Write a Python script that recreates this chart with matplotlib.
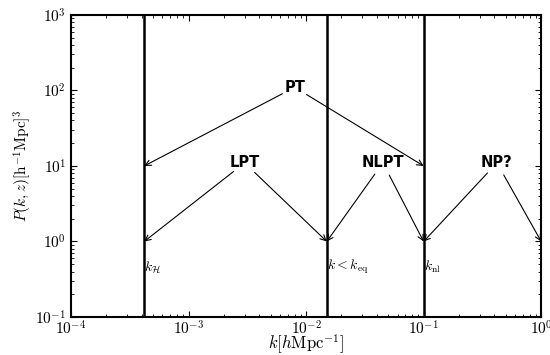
import math

import matplotlib

matplotlib.use("Agg")
import matplotlib.pyplot as plt
from matplotlib.ticker import FuncFormatter

plt.rcParams["mathtext.fontset"] = "cm"
plt.rcParams["font.family"] = ["DejaVu Serif"]

# scales (vertical lines) and where their labels sit
k_scales = [4.2e-4, 0.015, 0.1]
scale_labels = [r"$k_{\mathcal{H}}$", r"$k<k_{\rm eq}$", r"$k_{\rm nl}$"]
label_y = 0.46

# regimes: name, text position, arrow targets
regimes = ["PT", "LPT", "NLPT", "NP?"]
regime_k = [0.008, 0.003, 0.045, 0.42]
regime_p = [110, 11, 11, 11]
targets = [
    [(4.2e-4, 10), (0.1, 10)],
    [(4.2e-4, 1), (0.015, 1)],
    [(0.015, 1), (0.1, 1)],
    [(0.1, 1), (1.0, 1)],
]

fig = plt.figure(figsize=(5.5, 3.55), dpi=100)
ax = fig.add_axes([0.129, 0.107, 0.855, 0.851])
ax.set_xscale("log")
ax.set_yscale("log")
ax.set_xlim(1e-4, 1)
ax.set_ylim(1e-1, 1e3)

for k, lab in zip(k_scales, scale_labels):
    ax.axvline(k, color="black", linewidth=1.8)
    ax.text(k, label_y, lab, fontsize=10, ha="left", va="center")

for name, kx, py, tg in zip(regimes, regime_k, regime_p, targets):
    for tx, ty in tg:
        ax.annotate(
            "", xy=(tx, ty), xytext=(kx, py),
            arrowprops=dict(arrowstyle="->", color="black", linewidth=0.8,
                            shrinkA=10, shrinkB=0),
        )
    ax.text(kx, py, name, fontsize=10.5, ha="center", va="center",
            family=["DejaVu Sans"], fontweight="bold")

decade = FuncFormatter(lambda v, pos: r"$10^{%d}$" % round(math.log10(v)))
ax.xaxis.set_major_formatter(decade)
ax.yaxis.set_major_formatter(decade)

ax.set_xlabel(r"$k[h\mathrm{Mpc}^{-1}]$", fontsize=12)
ax.xaxis.set_label_coords(0.5, -0.05)
ax.set_ylabel(r"$P(k,z)[\mathrm{h}^{-1}\mathrm{Mpc}]^3$", fontsize=11, labelpad=1)

ax.tick_params(which="both", direction="in", top=True, right=True, labelsize=11)
ax.tick_params(axis="x", pad=2)
ax.tick_params(which="major", length=4)
ax.tick_params(which="minor", length=2)
for s in ax.spines.values():
    s.set_linewidth(1.5)

fig.savefig("out.png", dpi=100)
